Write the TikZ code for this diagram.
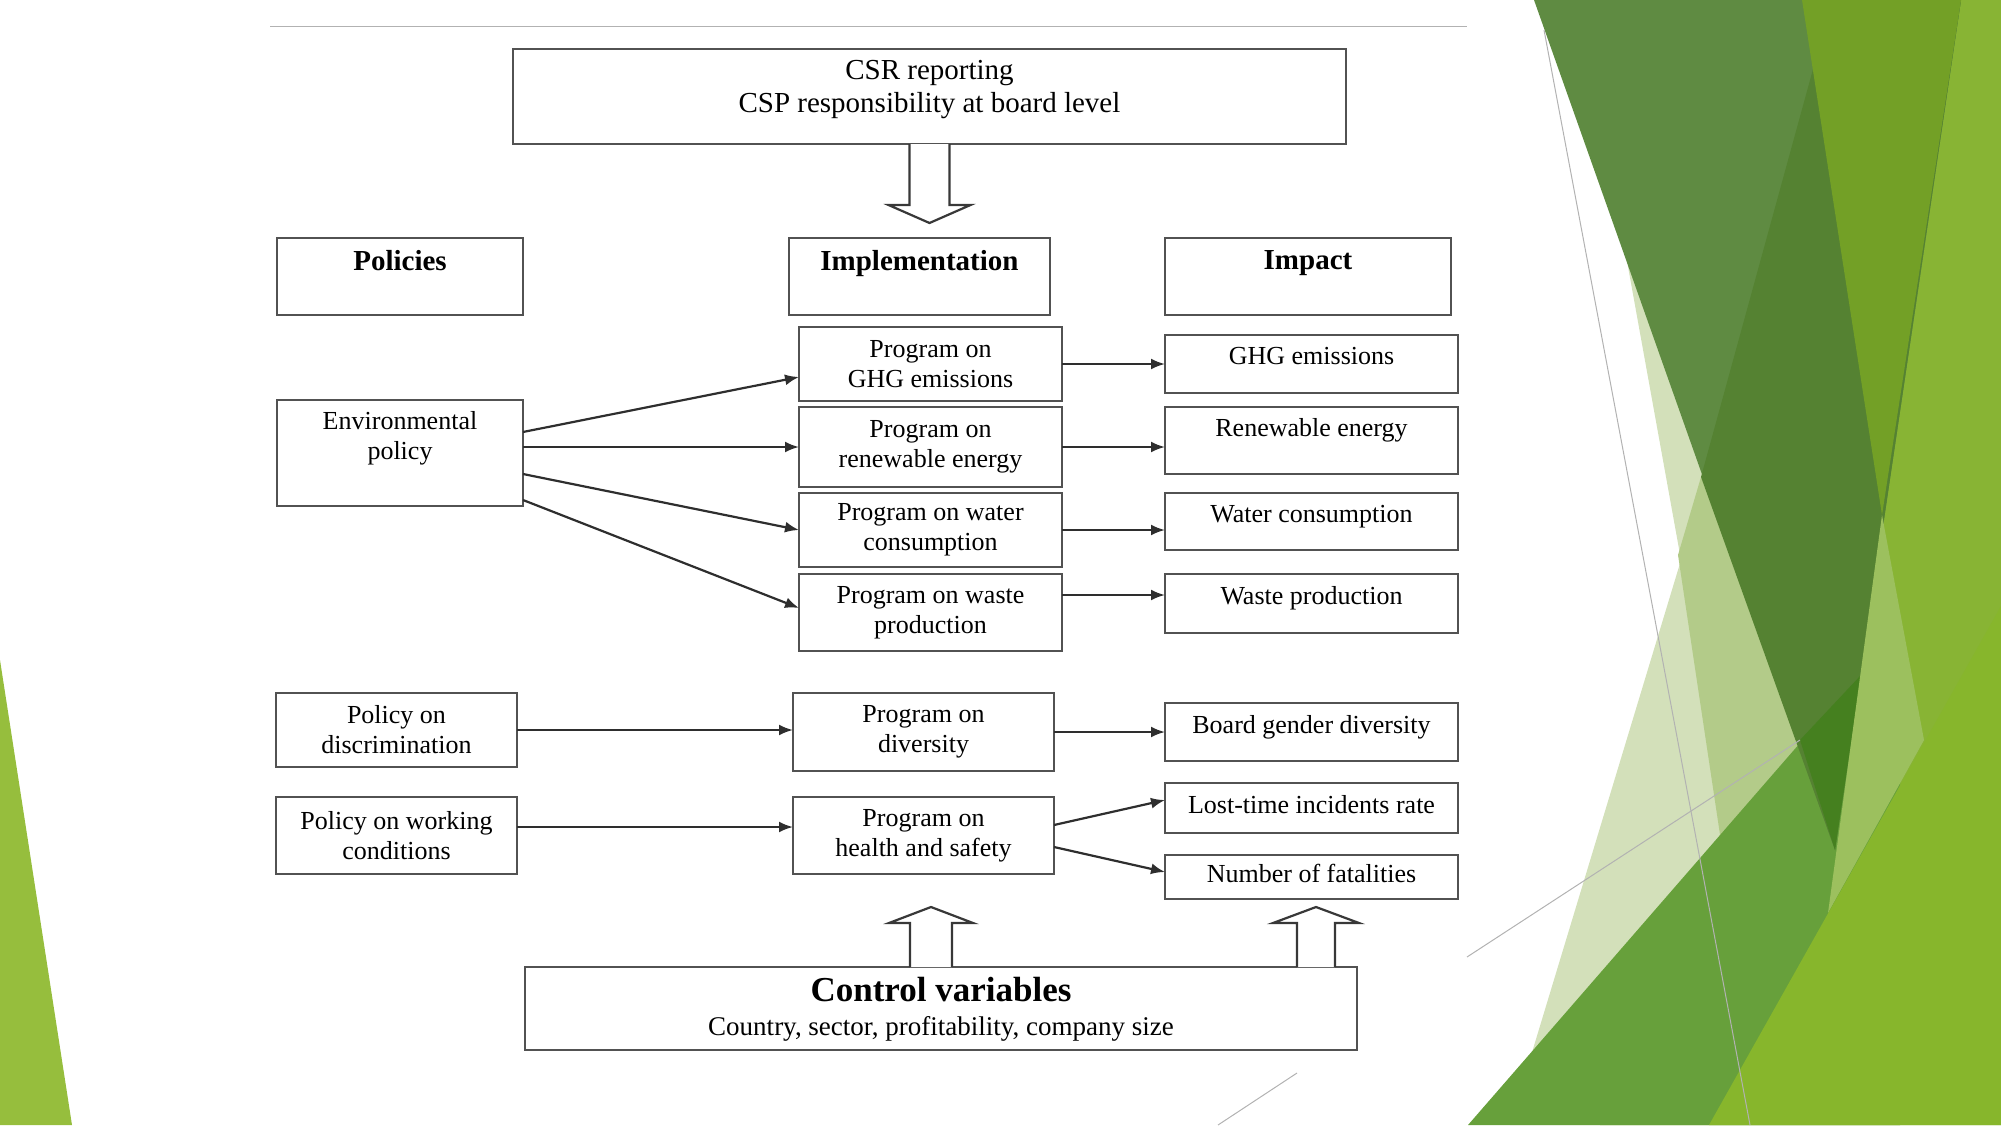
\documentclass[tikz,border=0pt]{standalone}
\usepackage{fontspec}
\setmainfont{Liberation Serif}
\usetikzlibrary{arrows.meta,positioning,calc}

% slide background greens
\definecolor{facetdark}{HTML}{5F8B42}
\definecolor{facetdeep}{HTML}{558232}
\definecolor{facetdarkest}{HTML}{45801F}
\definecolor{facetmid}{HTML}{73A026}
\definecolor{facetlight}{HTML}{88B434}
\definecolor{facetband}{HTML}{67A03B}
\definecolor{facetcorner}{HTML}{87B62C}
\definecolor{facetsliver}{HTML}{9CC05E}
\definecolor{facetpale}{HTML}{D3E0BA}
\definecolor{facetsoft}{HTML}{B3CB89}
\definecolor{facetleft}{HTML}{96BE3D}

\begin{document}
\begin{tikzpicture}[
  x=0.5pt, y=-0.5pt,
  font=\fontsize{13}{15}\selectfont,
  box/.style={rectangle, draw=black!68, line width=1.3pt, align=center,
              inner sep=0pt, outer sep=0pt, anchor=north west, fill=white},
  polbox/.style={box, minimum width=123pt},
  progbox/.style={box, minimum width=131.5pt},
  impbox/.style={box, minimum width=146.5pt, text depth=8pt},
  headbox/.style={box, minimum height=38.5pt, text depth=16.5pt,
                  font=\fontsize{14.5}{16.5}\selectfont\bfseries},
  arr/.style={-{Latex[length=7pt,width=5.5pt]}, line width=1.1pt, black!82},
  hollow/.style={draw=black!78, line width=1.1pt, fill=white, line join=miter},
  thinline/.style={draw=black!30, line width=0.5pt},
]
\useasboundingbox (0,0) rectangle (2001,1125);

% background facets
\fill[facetleft]  (0,660) -- (0,1125) -- (72,1125) -- cycle;
\fill[facetlight] (1802,0) -- (2001,0) -- (2001,1125) -- (1600,1125) -- (1884,520) -- cycle;
\fill[facetpale]  (1625,250) -- (1681,560) -- (1510,1125) -- (1900,1125) -- (1840,830) -- cycle;
\fill[facetsoft]  (1701,477) -- (1678,555) -- (1722,848) -- (1840,830) -- cycle;
\fill[facetband]  (1468,1125) -- (1900,628) -- (1900,1125) -- cycle;
\fill[facetdark]  (1534,0) -- (1961,0) -- (1835,850) -- cycle;
\fill[facetdeep]  (1832,0) -- (1701,477) -- (1835,850) -- (1961,0) -- cycle;
\fill[facetdarkest] (1800,740) -- (1861,675) -- (1835,850) -- cycle;
\fill[facetmid]   (1802,0) -- (1961,0) -- (1882,515) -- cycle;
\fill[facetsliver] (1882,515) -- (1924,740) -- (1828,913) -- cycle;
\fill[facetcorner] (1709,1125) -- (2001,606) -- (2001,1125) -- cycle;
\draw[thinline] (1544,30) -- (1750,1125);
\draw[thinline] (1467,957) -- (1800,740);
\draw[thinline] (1218,1125) -- (1297,1073);
\draw[thinline] (270,26) -- (1467,26);

% top block
\node[box, minimum width=416.5pt, minimum height=47.5pt, text depth=10pt,
      font=\fontsize{14.5}{16.5}\selectfont] (csr) at (513,49)
      {CSR reporting\\CSP responsibility at board level};

\node[headbox, minimum width=123pt]   (policies)  at (277,238)  {Policies};
\node[headbox, minimum width=130.5pt] (implement) at (789,238)  {Implementation};
\node[headbox, minimum width=143pt]   (impact)    at (1165,238) {Impact};

% environmental part
\node[polbox, minimum height=53pt, text depth=18pt] (envpol) at (277,400)
      {Environmental\\policy};

\node[progbox, minimum height=37pt]   (pghg) at (799,327) {Program on\\GHG emissions};
\node[progbox, minimum height=40pt, below=3pt of pghg]   (pren) {Program on\\renewable energy};
\node[progbox, minimum height=37pt, below=3pt of pren]   (pwat) {Program on water\\consumption};
\node[progbox, minimum height=38.5pt, below=3.5pt of pwat] (pwas) {Program on waste\\production};

\node[impbox, minimum height=29pt]   (ighg) at (1165,335) {GHG emissions};
\node[impbox, minimum height=33.5pt, text depth=13pt] (iren) at (1165,407) {Renewable energy};
\node[impbox, minimum height=28.5pt] (iwat) at (1165,493) {Water consumption};
\node[impbox, minimum height=29.5pt] (iwas) at (1165,574) {Waste production};

% social part
\node[box, minimum width=120.5pt, minimum height=37pt]   (pdisc) at (276,693) {Policy on\\discrimination};
\node[box, minimum width=120.5pt, minimum height=38.5pt] (pwork) at (276,797) {Policy on working\\conditions};
\node[box, minimum width=130.5pt, minimum height=39pt]   (pdiv)  at (793,693) {Program on\\diversity};
\node[box, minimum width=130.5pt, minimum height=38.5pt] (phs)   at (793,797) {Program on\\health and safety};

\node[impbox, minimum height=29pt] (iboard) at (1165,703) {Board gender diversity};
\node[impbox, minimum height=25pt, text depth=4pt] (ilost) at (1165,783) {Lost-time incidents rate};
\node[impbox, minimum height=22pt, text depth=4pt] (ifat)  at (1165,855) {Number of fatalities};

\node[box, minimum width=416pt, minimum height=41.5pt, text depth=2pt,
      font=\fontsize{13.5}{16}\selectfont] (ctrl) at (525,967)
      {{\fontsize{17.5}{18}\selectfont\bfseries Control variables}\\[1pt]
       Country, sector, profitability, company size};

% connectors
\draw[arr] ($(envpol.north east)+(0,32)$)  -- ($(pghg.north west)+(0,50)$);
\draw[arr] ($(envpol.north east)+(0,47)$)  -- (pren.west);
\draw[arr] ($(envpol.north east)+(0,74)$)  -- (pwat.west);
\draw[arr] ($(envpol.north east)+(0,100)$) -- ($(pwas.north west)+(0,34)$);

\draw[arr] (pghg.east) -- (pghg.east -| ighg.west);
\draw[arr] (pren.east) -- (pren.east -| iren.west);
\draw[arr] (pwat.east) -- (pwat.east -| iwat.west);
\draw[arr] ($(pwas.north east)+(0,21)$) -- ($(iwas.north west)+(0,21)$);

\draw[arr] (pdisc.east) -- (pdisc.east -| pdiv.west);
\draw[arr] (pdiv.east)  -- (pdiv.east -| iboard.west);
\draw[arr] ($(pwork.north east)+(0,30)$) -- ($(phs.north west)+(0,30)$);
\draw[arr] ($(phs.north east)+(0,28)$) -- ($(ilost.north west)+(0,17)$);
\draw[arr] ($(phs.north east)+(0,50)$) -- ($(ifat.north west)+(0,17)$);

% hollow block arrows
\draw[hollow] ($(csr.south)+(-20,0)$) -- ++(0,61) -- ++(-21,0)
      -- ($(csr.south)+(0,79)$) -- ($(csr.south)+(41,61)$) -- ++(-21,0)
      -- ($(csr.south)+(20,0)$);

\coordinate (cv1) at ($(ctrl.north west)+(406,0)$);
\coordinate (cv2) at ($(ctrl.north west)+(791,0)$);
\draw[hollow] ($(cv1)+(-21,0)$) -- ++(0,-44) -- ++(-21,0)
      -- ($(cv1)+(0,-60)$) -- ($(cv1)+(42,-44)$) -- ++(-21,0)
      -- ($(cv1)+(21,0)$);
\draw[hollow] ($(cv2)+(-19,0)$) -- ++(0,-44) -- ++(-24,0)
      -- ($(cv2)+(0,-60)$) -- ($(cv2)+(43,-44)$) -- ++(-24,0)
      -- ($(cv2)+(19,0)$);

\end{tikzpicture}
\end{document}
